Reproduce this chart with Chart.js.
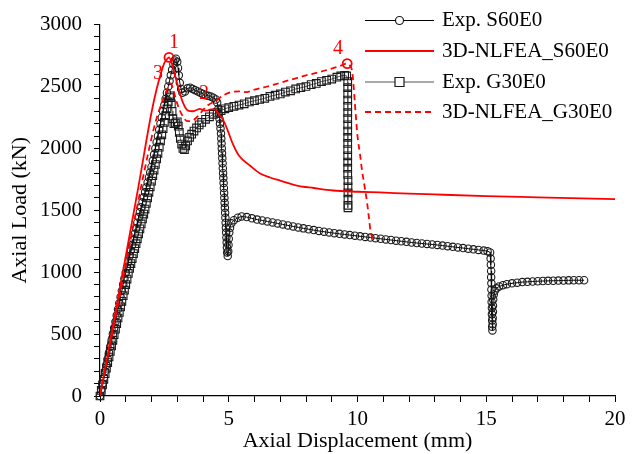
<!DOCTYPE html>
<html>
<head>
<meta charset="utf-8">
<script src="https://cdn.jsdelivr.net/npm/chart.js@4.4.1/dist/chart.umd.min.js"></script>
<style>
  html, body { margin: 0; padding: 0; background: #fff; }
  #wrap { width: 632px; height: 454px; }
</style>
</head>
<body>
<div id="wrap"><canvas id="chartCanvas" width="632" height="454"></canvas></div>
<script>
// Exp. S60E0 (circles)
const expS60X = [
  0,0.05,0.1,0.15,0.2,0.25,0.3,0.35,0.4,0.45,0.5,0.55,0.6,0.65,0.7,0.75,0.8,0.85,0.9,0.95,
  1,1.05,1.1,1.15,1.2,1.25,1.3,1.35,1.4,1.45,1.5,1.55,1.6,1.65,1.7,1.75,1.8,1.85,1.9,1.95,
  2,2.05,2.1,2.15,2.2,2.25,2.3,2.35,2.4,2.45,2.5,2.55,2.6,2.65,2.7,2.75,2.8,2.85,2.9,2.95,
  3,3.03,3.06,3.1,3.15,3.2,3.3,3.4,3.5,3.6,3.7,3.8,3.9,4,4.1,4.2,4.3,4.4,4.5,4.55,
  4.6,4.62,4.64,4.66,4.68,4.7,4.71,4.72,4.73,4.74,4.75,4.76,4.77,4.78,4.79,4.8,4.81,4.82,4.83,4.84,
  4.85,4.86,4.87,4.88,4.89,4.9,4.91,4.92,4.93,4.94,4.96,4.98,4.99,5,5.02,5.05,5.1,5.2,5.35,5.5,
  5.7,5.9,6.1,6.3,6.5,6.7,6.9,7.1,7.3,7.5,7.7,7.9,8.1,8.3,8.5,8.7,8.9,9.1,9.3,9.5,
  9.7,9.9,10.1,10.3,10.5,10.7,10.9,11.1,11.3,11.5,11.7,11.9,12.1,12.3,12.5,12.7,12.9,13.1,13.3,13.5,
  13.7,13.9,14.1,14.3,14.5,14.7,14.9,15.05,15.15,15.17,15.18,15.19,15.19,15.2,15.2,15.21,15.21,15.22,15.22,15.23,
  15.23,15.24,15.25,15.25,15.26,15.26,15.27,15.29,15.33,15.4,15.5,15.65,15.8,16,16.2,16.4,16.6,16.8,17,17.2,
  17.4,17.6,17.8,18,18.2,18.4,18.6,18.8
];
const expS60Y = [
  0,50,100,150,200,250,300,350,400,450,500,550,600,650,700,750,800,850,900,950,
  995,1040,1085,1130,1175,1220,1265,1310,1355,1400,1445,1485,1525,1565,1605,1645,1685,1725,1765,1805,
  1850,1900,1950,2000,2050,2100,2150,2200,2250,2300,2350,2400,2450,2500,2545,2590,2635,2680,2710,2725,
  2700,2650,2590,2530,2480,2450,2460,2485,2490,2480,2470,2460,2450,2440,2430,2425,2420,2410,2395,2370,
  2320,2280,2240,2200,2160,2120,2080,2040,2000,1960,1920,1880,1840,1800,1760,1720,1680,1640,1600,1560,
  1520,1480,1440,1400,1360,1320,1280,1240,1200,1160,1130,1170,1220,1270,1320,1360,1395,1420,1440,1450,
  1445,1435,1425,1418,1410,1402,1394,1386,1378,1370,1362,1354,1347,1340,1333,1327,1321,1315,1310,1305,
  1300,1295,1290,1285,1280,1275,1270,1265,1260,1255,1250,1245,1240,1236,1232,1228,1224,1220,1215,1210,
  1205,1200,1195,1190,1185,1180,1175,1170,1160,1110,1060,1010,960,910,860,810,760,710,660,610,
  560,530,580,630,680,730,780,820,850,870,885,895,903,910,915,920,922,925,927,929,
  930,931,932,933,934,935,935,935
];

// Exp. G30E0 (squares)
const expG30X = [
  0,0.05,0.1,0.15,0.2,0.25,0.3,0.35,0.4,0.45,0.5,0.55,0.6,0.65,0.7,0.75,0.8,0.85,0.9,0.95,
  1,1.05,1.1,1.15,1.2,1.25,1.3,1.35,1.4,1.45,1.5,1.55,1.6,1.65,1.7,1.75,1.8,1.85,1.9,1.95,
  2,2.05,2.1,2.15,2.2,2.25,2.3,2.35,2.4,2.45,2.5,2.55,2.6,2.65,
  2.7,2.74,2.77,2.8,2.83,2.87,2.93,3,3.04,3.08,3.12,3.17,3.22,3.28,3.33,3.4,3.48,3.56,3.65,3.75,
  3.85,3.95,4.1,4.25,4.4,4.55,4.7,4.85,5,5.2,5.4,5.6,5.8,6,6.2,6.4,6.6,6.8,7,7.2,
  7.4,7.6,7.8,8,8.2,8.4,8.6,8.8,9,9.2,9.35,9.5,9.58,9.62,9.62,9.62,9.62,9.62,9.62,9.62,
  9.62,9.62,9.62,9.62,9.62,9.62,9.62,9.62,9.62,9.63,9.63,9.63,9.63,9.63,9.63
];
const expG30Y = [
  0,45,90,135,180,225,270,315,360,405,450,495,540,585,630,675,720,765,810,855,
  900,945,990,1030,1070,1110,1150,1190,1230,1270,1310,1350,1390,1430,1470,1510,1555,1600,1645,1690,
  1735,1780,1825,1870,1915,1960,2010,2060,2110,2160,2210,2265,2320,2375,
  2425,2410,2360,2300,2240,2200,2205,2215,2180,2130,2080,2035,2000,1990,2020,2060,2090,2115,2140,2165,
  2190,2210,2235,2255,2275,2290,2305,2320,2330,2340,2350,2360,2375,2385,2395,2405,2420,2430,2440,2455,
  2465,2480,2490,2500,2515,2525,2540,2550,2560,2575,2585,2590,2585,2540,2490,2440,2390,2340,2290,2240,
  2190,2140,2090,2040,1990,1940,1890,1840,1790,1740,1690,1640,1590,1540,1520
];

// 3D-NLFEA_S60E0 (solid red)
const feaS60X = [0,0.5,1,1.5,2,2.2,2.35,2.5,2.6,2.68,2.8,2.9,3.03,3.23,3.42,3.6,3.75,3.88,4,4.14,
  4.3,4.47,4.6,4.78,4.95,5.17,5.4,5.83,6.2,6.6,7,7.65,8.3,9.05,10,10.87,12,13,15,17,20];
const feaS60Y = [0,560,1130,1700,2290,2480,2595,2690,2720,2735,2680,2600,2500,2365,2305,2300,2310,2320,2310,2305,
  2315,2315,2280,2230,2150,2030,1940,1860,1800,1765,1740,1700,1680,1660,1650,1644,1635,1628,1615,1605,1590];

// 3D-NLFEA_G30E0 (dashed red)
const feaG30X = [0,0.5,1,1.5,1.9,2.1,2.3,2.5,2.65,2.75,2.85,3,3.2,3.4,3.6,3.8,4,4.2,4.5,4.8,
  5.1,5.4,5.7,6,6.5,7,7.5,8,8.5,9,9.3,9.6,9.7,9.79,9.85,9.9,10,10.1,10.17,10.27,10.37,10.45,10.5,10.6];
const feaG30Y = [0,530,1060,1590,1990,2170,2310,2420,2495,2525,2470,2360,2265,2220,2225,2260,2310,2350,2385,2430,
  2455,2460,2455,2475,2500,2530,2560,2590,2615,2645,2665,2685,2670,2625,2500,2360,2100,1950,1830,1700,1565,1430,1340,1260];

// numbered marks on the FEA curves
const markLabels = ['1', '2', '3', '4'];
const markLabelX = [2.87, 4.04, 2.25, 9.24];
const markLabelY = [2857, 2442, 2601, 2801];
const markCircleX = [2.68, 9.6];
const markCircleY = [2735, 2685];

const legendNames = ['Exp. S60E0', '3D-NLFEA_S60E0', 'Exp. G30E0', '3D-NLFEA_G30E0'];

const serif = "'Liberation Serif', 'Times New Roman', serif";

function toPoints(xs, ys) {
  return xs.map((x, i) => ({ x: x, y: ys[i] }));
}

// draws the numbered marks and the legend in the top right
const overlayPlugin = {
  id: 'overlay',
  afterDatasetsDraw(chart) {
    const ctx = chart.ctx;
    const xs = chart.scales.x, ys = chart.scales.y;
    ctx.save();
    ctx.fillStyle = '#ff0000';
    ctx.font = '20px ' + serif;
    ctx.textAlign = 'center';
    ctx.textBaseline = 'middle';
    markLabels.forEach((t, i) => {
      ctx.fillText(t, xs.getPixelForValue(markLabelX[i]), ys.getPixelForValue(markLabelY[i]));
    });
    ctx.restore();
  },
  afterDraw(chart) {
    const ctx = chart.ctx;
    const rowY = [20.5, 51, 82, 112];
    const x0 = 365, x1 = 434, tx = 442;
    ctx.save();
    ctx.font = '21px ' + serif;
    ctx.textBaseline = 'middle';
    ctx.textAlign = 'left';
    legendNames.forEach((name, i) => {
      const ds = chart.data.datasets.find(d => d.label === name);
      const y = rowY[i];
      ctx.strokeStyle = ds.borderColor;
      ctx.lineWidth = ds.borderWidth;
      ctx.setLineDash(ds.borderDash || []);
      ctx.beginPath();
      ctx.moveTo(x0, y);
      ctx.lineTo(x1, y);
      ctx.stroke();
      ctx.setLineDash([]);
      if (ds.pointRadius > 0) {
        const cx = (x0 + x1) / 2;
        ctx.fillStyle = '#fff';
        ctx.strokeStyle = ds.pointBorderColor;
        ctx.lineWidth = 1.2;
        ctx.beginPath();
        if (ds.pointStyle === 'rect') {
          ctx.rect(cx - 4.5, y - 4.5, 9, 9);
        } else {
          ctx.arc(cx, y, 4, 0, Math.PI * 2);
        }
        ctx.fill();
        ctx.stroke();
      }
      ctx.fillStyle = '#000';
      ctx.fillText(name, tx, y);
    });
    ctx.restore();
  }
};

const chartCanvas = document.getElementById('chartCanvas');

new Chart(chartCanvas, {
  type: 'scatter',
  data: {
    datasets: [
      {
        label: 'marks',
        data: toPoints(markCircleX, markCircleY),
        showLine: false,
        pointRadius: 4.5,
        pointBorderColor: '#ff0000',
        pointBackgroundColor: 'rgba(0,0,0,0)',
        pointBorderWidth: 1.8,
        order: 0,
        clip: false
      },
      {
        label: legendNames[1],
        data: toPoints(feaS60X, feaS60Y),
        showLine: true,
        borderColor: '#ff0000',
        borderWidth: 1.8,
        pointRadius: 0,
        cubicInterpolationMode: 'monotone',
        order: 1
      },
      {
        label: legendNames[3],
        data: toPoints(feaG30X, feaG30Y),
        showLine: true,
        borderColor: '#ff0000',
        borderWidth: 1.8,
        borderDash: [6, 4],
        pointRadius: 0,
        cubicInterpolationMode: 'monotone',
        order: 2
      },
      {
        label: legendNames[0],
        data: toPoints(expS60X, expS60Y),
        showLine: true,
        borderColor: '#000',
        borderWidth: 1,
        pointStyle: 'circle',
        pointRadius: 3.7,
        pointBorderColor: '#1a1a1a',
        pointBackgroundColor: 'rgba(0,0,0,0)',
        pointBorderWidth: 1.1,
        order: 3,
        clip: false
      },
      {
        label: legendNames[2],
        data: toPoints(expG30X, expG30Y),
        showLine: true,
        borderColor: '#555',
        borderWidth: 1,
        pointStyle: 'rect',
        pointRadius: 5.4,
        pointBorderColor: '#1a1a1a',
        pointBackgroundColor: 'rgba(0,0,0,0)',
        pointBorderWidth: 1.1,
        order: 4,
        clip: false
      }
    ]
  },
  options: {
    responsive: false,
    devicePixelRatio: 1,
    animation: false,
    events: [],
    layout: { padding: { left: 0, right: 17, top: 20, bottom: 0 } },
    plugins: {
      legend: { display: false },
      tooltip: { enabled: false }
    },
    scales: {
      x: {
        type: 'linear',
        min: 0,
        max: 20,
        afterFit: (scale) => { scale.height = 58; },
        border: { color: '#000', width: 1.2 },
        grid: { drawOnChartArea: false, color: '#000', tickLength: 6 },
        ticks: {
          stepSize: 1,
          autoSkip: false,
          maxRotation: 0,
          padding: 5,
          color: '#000',
          font: { family: serif, size: 21 },
          callback: (v) => (v % 5 === 0 ? v : '')
        },
        title: {
          display: true,
          text: 'Axial Displacement (mm)',
          color: '#000',
          font: { family: serif, size: 22 },
          padding: { top: 0, bottom: 0 }
        }
      },
      y: {
        min: 0,
        max: 3000,
        afterFit: (scale) => { scale.width = 100; },
        border: { color: '#000', width: 1.2 },
        grid: { drawOnChartArea: false, color: '#000', tickLength: 6 },
        ticks: {
          stepSize: 100,
          autoSkip: false,
          padding: 12,
          color: '#000',
          font: { family: serif, size: 21 },
          callback: (v) => (v % 500 === 0 ? v : '')
        },
        title: {
          display: true,
          text: 'Axial Load (kN)',
          color: '#000',
          font: { family: serif, size: 22 },
          padding: { top: 7, bottom: 0 }
        }
      }
    }
  },
  plugins: [overlayPlugin]
});
</script>
</body>
</html>
